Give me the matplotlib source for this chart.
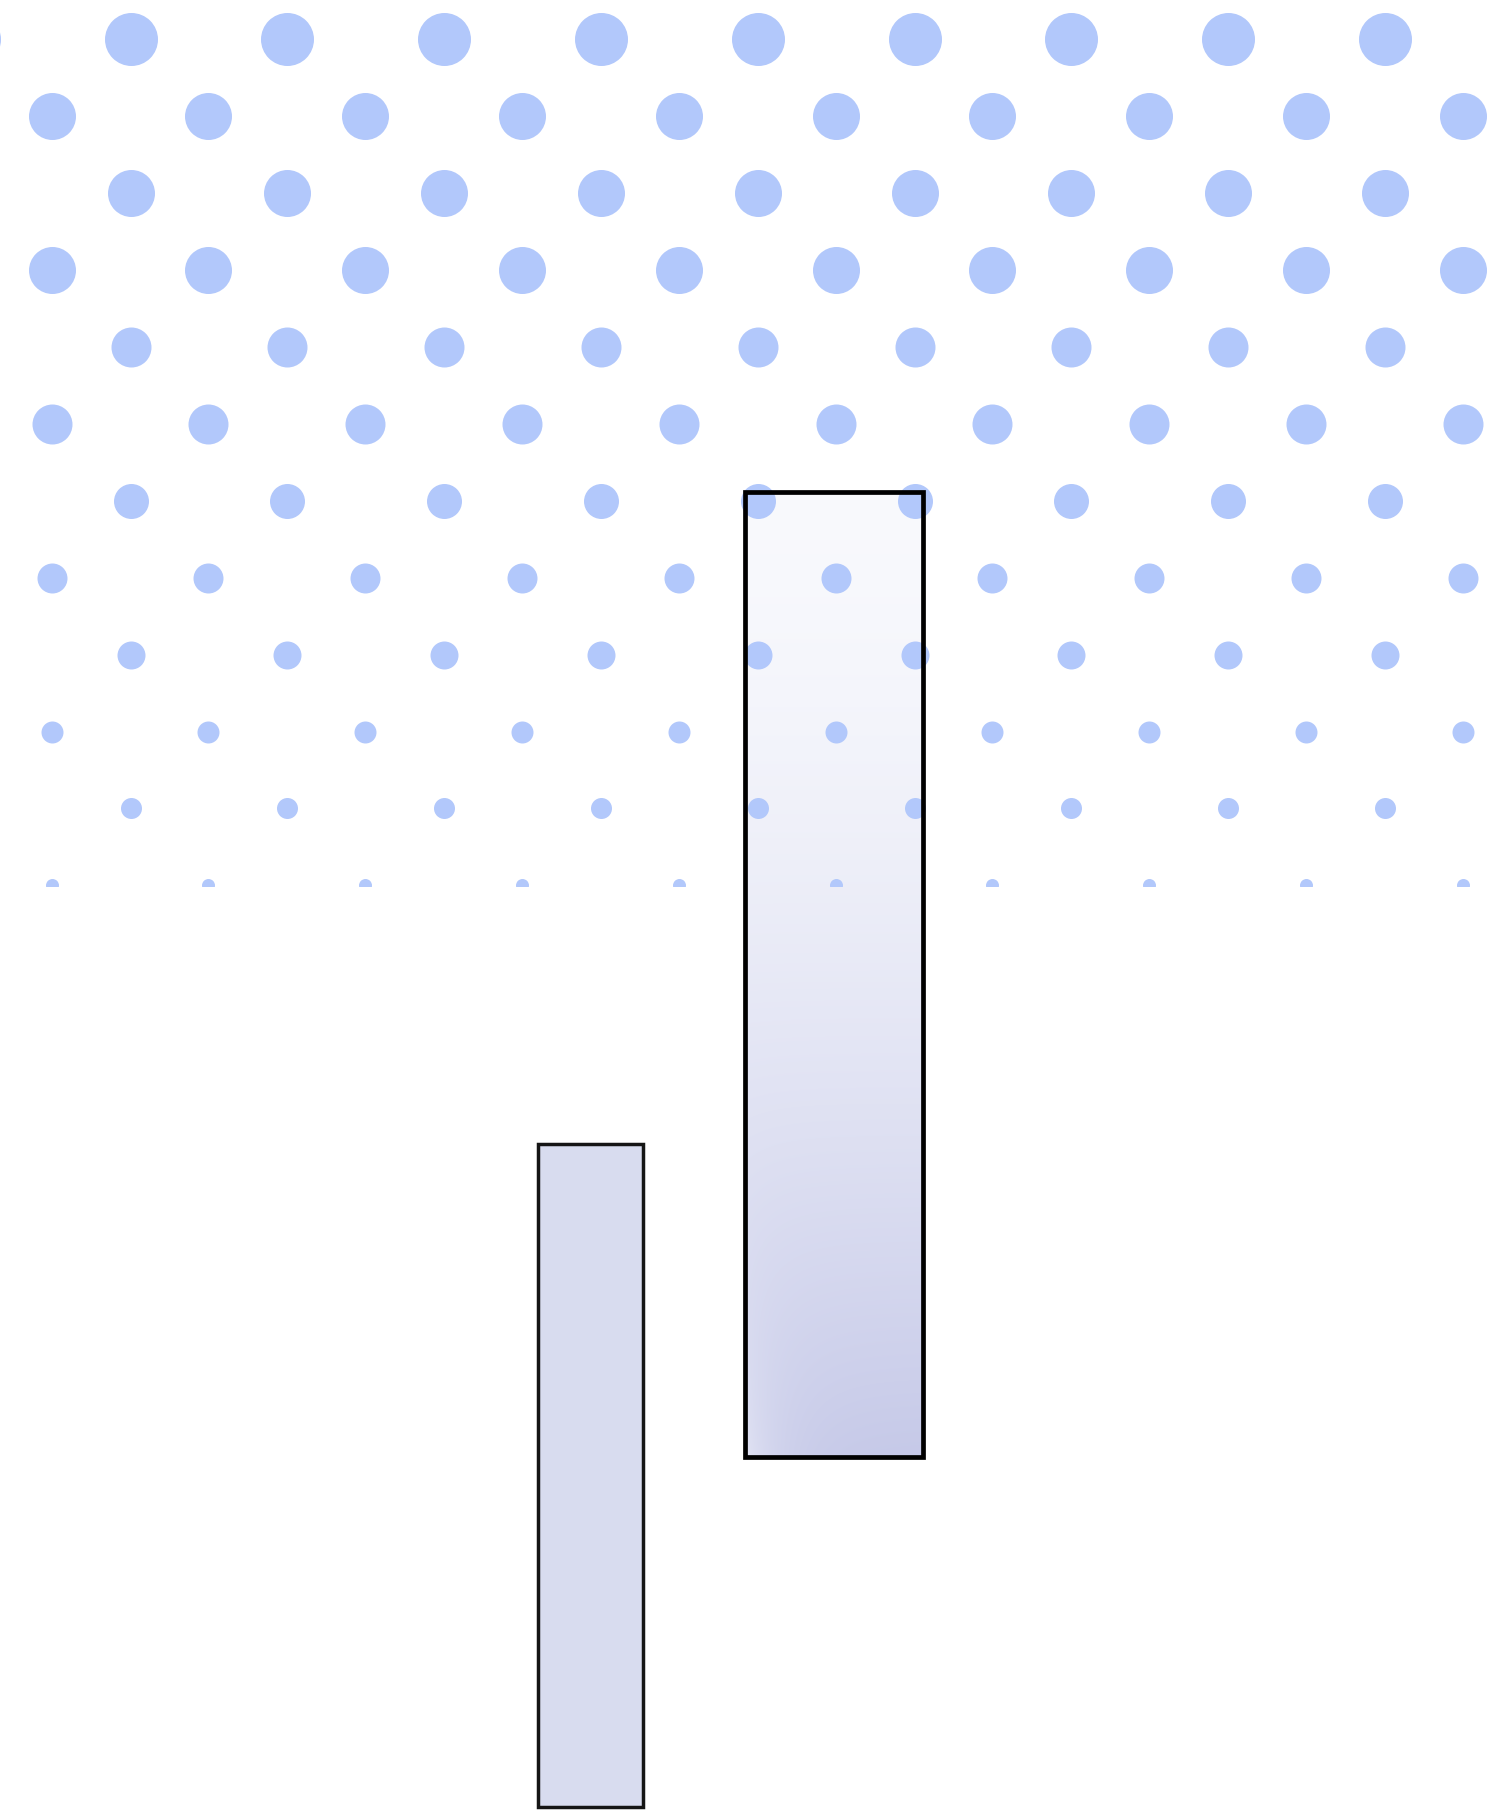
import numpy as np
import matplotlib
matplotlib.use("Agg")
import matplotlib.pyplot as plt
from matplotlib.patches import Rectangle

# ---- data (axis units: 1 unit = 100 px) ----
bar_x = [5.90, 8.34]          # bar centres
bar_width = [1.05, 1.79]
bar_bottom = [0.0, 3.50]
bar_height = [6.63, 9.65]

# halftone background pattern (decoration)
dot_diam_px = [53, 47, 47, 47, 40, 40, 35, 30, 28, 22, 21, 13]
dot_row_top = 17.675          # y of first row (units)
dot_row_step = 0.769
dot_col_step = 1.568
dot_offset_a = 1.305
dot_offset_b = 0.515
dot_clip_y = 9.21

DOT_COLOR = "#b2c8fb"
SMALL_FILL = "#d8dcef"

W, H, DPI = 15.0, 18.1, 100
YLIM = (-0.03, 18.07)
fig = plt.figure(figsize=(W, H), dpi=DPI)
ax = fig.add_axes([0, 0, 1, 1])
ax.set_xlim(0, 15)
ax.set_ylim(*YLIM)
ax.axis("off")

# ---- bars ----
bars = ax.bar(bar_x, bar_height, width=bar_width, bottom=bar_bottom,
              facecolor="none", edgecolor="none", zorder=1)

# small bar: flat fill
small = bars[0]
ax.add_patch(Rectangle(small.get_xy(), small.get_width(), small.get_height(),
                       facecolor=SMALL_FILL, edgecolor="#151515",
                       linewidth=2.5, joinstyle="miter", zorder=3))

# big bar: gradient fill
big = bars[1]
x0, y0 = big.get_xy()
bw, bh = big.get_width(), big.get_height()
ny, nx = 400, 120
t = np.linspace(0, 1, ny)[:, None]      # 0 top -> 1 bottom
s = np.linspace(0, 1, nx)[None, :]      # 0 left -> 1 right
d = t ** 1.6
d = d * (1 - 0.55 * np.exp(-s / 0.2) * t ** 6)
top = np.array([0.975, 0.978, 0.992])
bot = np.array([0.775, 0.788, 0.910])
img = top[None, None, :] + (bot - top)[None, None, :] * d[:, :, None]
ax.imshow(img, extent=(x0, x0 + bw, y0, y0 + bh), origin="upper",
          aspect="auto", interpolation="bilinear", zorder=1.5)
ax.add_patch(Rectangle((x0, y0), bw, bh, facecolor="none", edgecolor="black",
                       linewidth=3.4, joinstyle="miter", zorder=4))
ax.set_xlim(0, 15)
ax.set_ylim(*YLIM)

# ---- halftone dots ----
clip = Rectangle((-1, dot_clip_y), 17, 20, transform=ax.transData)
for i, dpx in enumerate(dot_diam_px):
    y = dot_row_top - i * dot_row_step
    off = dot_offset_a if i % 2 == 0 else dot_offset_b
    xs = off + dot_col_step * np.arange(-1, 11)
    sz = (dpx * 72.0 / DPI) ** 2
    sc = ax.scatter(xs, np.full_like(xs, y), s=sz, c=DOT_COLOR,
                    linewidths=0, zorder=2)
    sc.set_clip_path(clip)

fig.savefig("out.png", dpi=DPI, facecolor="white")
